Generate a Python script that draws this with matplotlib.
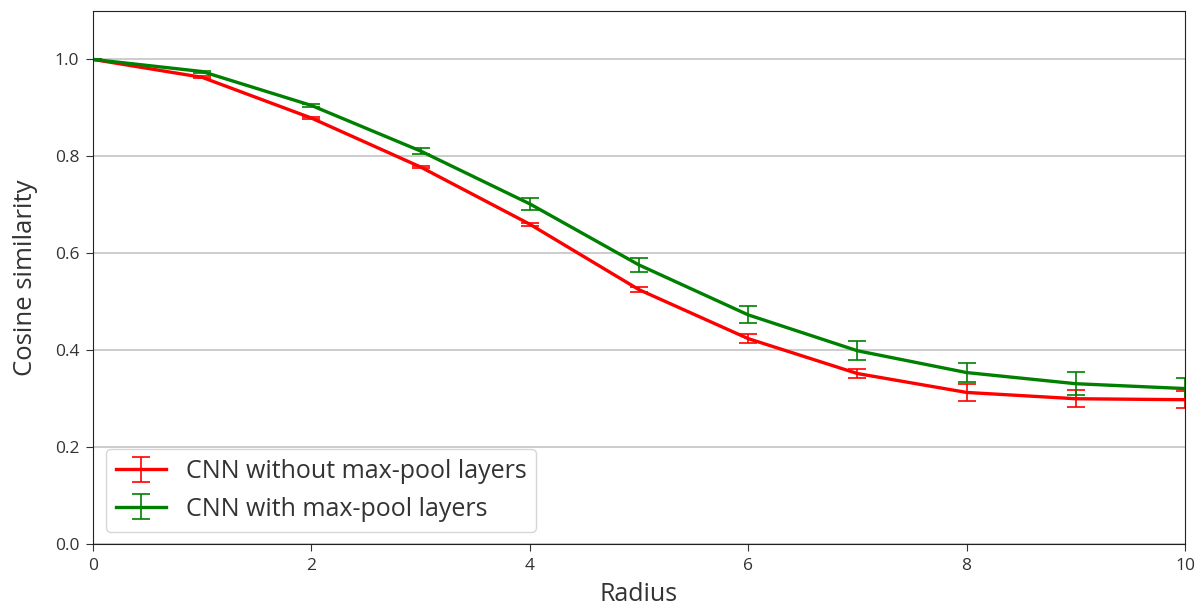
import numpy as np
from matplotlib import pyplot as plt

plt.rcParams['font.family'] = ['Open Sans', 'DejaVu Sans']
plt.rcParams['text.color'] = '#333333'
plt.rcParams['axes.labelcolor'] = '#333333'
plt.rcParams['xtick.color'] = '#333333'
plt.rcParams['ytick.color'] = '#333333'

radius = [0, 1, 2, 3, 4, 5, 6, 7, 8, 9, 10]

# cosine similarity, CNN without max-pool layers
sim_nopool = [1.0, 0.963, 0.879, 0.778, 0.660, 0.525, 0.424, 0.352, 0.313, 0.300, 0.298]
err_nopool = [0.0, 0.002, 0.002, 0.003, 0.003, 0.005, 0.010, 0.010, 0.017, 0.018, 0.018]

# cosine similarity, CNN with max-pool layers
sim_pool = [1.0, 0.975, 0.905, 0.811, 0.702, 0.576, 0.473, 0.399, 0.354, 0.331, 0.321]
err_pool = [0.0, 0.002, 0.004, 0.006, 0.012, 0.015, 0.0175, 0.02, 0.02, 0.024, 0.022]

fig, ax = plt.subplots(figsize=(11.99, 6.08), dpi=100)
ax.errorbar(radius, sim_nopool, yerr=err_nopool, color='red', linewidth=2.4,
            elinewidth=1.2, capsize=6.5, capthick=1.2,
            label='CNN without max-pool layers')
ax.errorbar(radius, sim_pool, yerr=err_pool, color='green', linewidth=2.4,
            elinewidth=1.2, capsize=6.5, capthick=1.2,
            label='CNN with max-pool layers')
ax.set_xlim(0, 10)
ax.set_ylim(0, 1.1)
ax.set_yticks([0.0, 0.2, 0.4, 0.6, 0.8, 1.0])
ax.yaxis.grid(True, color='#c8c8c8', linewidth=1.3)
ax.set_axisbelow(True)
ax.tick_params(labelsize=12.5, length=5, pad=5)
for s in ax.spines.values():
    s.set_color('#222222')
ax.set_xlabel('Radius', fontsize=18, labelpad=6)
ax.set_ylabel('Cosine similarity', fontsize=18.5, labelpad=12)
ax.legend(loc='lower left', fontsize=18)
fig.subplots_adjust(left=0.0776, right=0.9883, top=0.982, bottom=0.105)
fig.savefig('out.png')
